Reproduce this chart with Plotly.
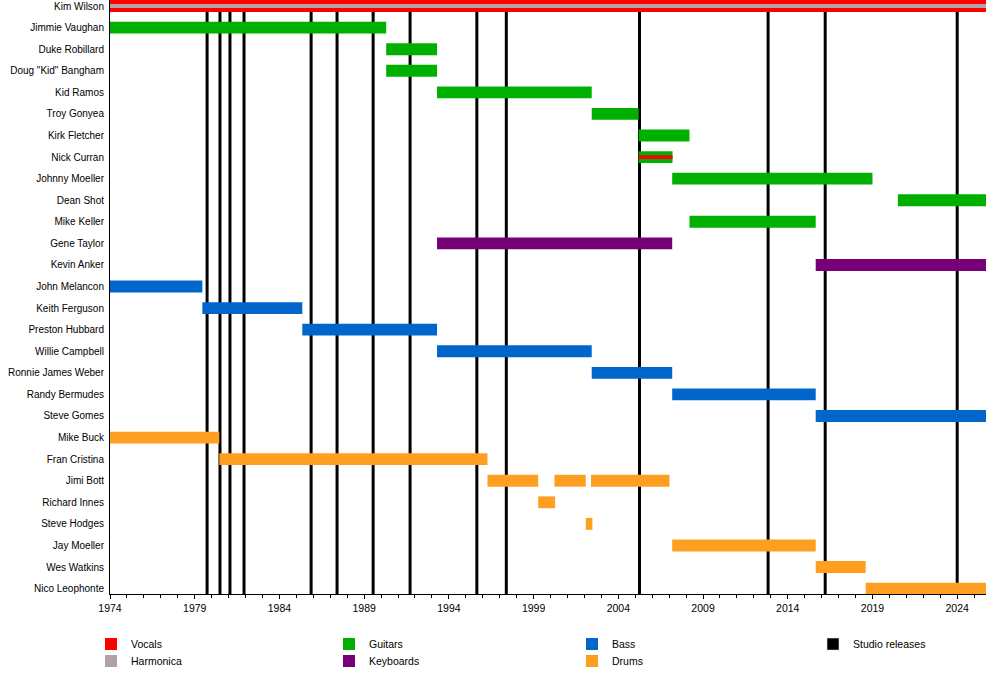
import plotly.graph_objects as go

# members, top to bottom
members = [
    "Kim Wilson", "Jimmie Vaughan", "Duke Robillard", 'Doug "Kid" Bangham',
    "Kid Ramos", "Troy Gonyea", "Kirk Fletcher", "Nick Curran",
    "Johnny Moeller", "Dean Shot", "Mike Keller", "Gene Taylor",
    "Kevin Anker", "John Melancon", "Keith Ferguson", "Preston Hubbard",
    "Willie Campbell", "Ronnie James Weber", "Randy Bermudes", "Steve Gomes",
    "Mike Buck", "Fran Cristina", "Jimi Bott", "Richard Innes",
    "Steve Hodges", "Jay Moeller", "Wes Watkins", "Nico Leophonte",
]

timeline_start = 1974
timeline_end = 2025.7

# vocals
vocal_members = ["Kim Wilson", "Nick Curran"]
vocal_start = [1974, 2005.2]
vocal_end = [2025.7, 2007.2]

# harmonica
harp_members = ["Kim Wilson"]
harp_start = [1974]
harp_end = [2025.7]

# guitars
guitar_members = ["Jimmie Vaughan", "Duke Robillard", 'Doug "Kid" Bangham', "Kid Ramos",
                  "Troy Gonyea", "Kirk Fletcher", "Nick Curran", "Johnny Moeller",
                  "Dean Shot", "Mike Keller"]
guitar_start = [1974, 1990.3, 1990.3, 1993.3, 2002.43, 2005.2, 2005.2, 2007.18, 2020.5, 2008.2]
guitar_end = [1990.3, 1993.3, 1993.3, 2002.43, 2005.2, 2008.2, 2007.2, 2019.0, 2025.7, 2015.65]

# keyboards
keys_members = ["Gene Taylor", "Kevin Anker"]
keys_start = [1993.3, 2015.65]
keys_end = [2007.18, 2025.7]

# bass
bass_members = ["John Melancon", "Keith Ferguson", "Preston Hubbard", "Willie Campbell",
                "Ronnie James Weber", "Randy Bermudes", "Steve Gomes"]
bass_start = [1974, 1979.45, 1985.35, 1993.3, 2002.43, 2007.18, 2015.65]
bass_end = [1979.45, 1985.35, 1993.3, 2002.43, 2007.18, 2015.65, 2025.7]

# drums
drum_members = ["Mike Buck", "Fran Cristina", "Jimi Bott", "Jimi Bott", "Jimi Bott",
                "Richard Innes", "Steve Hodges", "Jay Moeller", "Wes Watkins", "Nico Leophonte"]
drum_start = [1974, 1980.45, 1996.28, 2000.23, 2002.39, 1999.27, 2002.08, 2007.18, 2015.65, 2018.6]
drum_end = [1980.45, 1996.28, 1999.27, 2002.08, 2007.02, 2000.27, 2002.47, 2015.65, 2018.6, 2025.7]

# studio albums
album_years = [1979.73, 1980.49, 1981.08, 1981.91, 1985.87, 1987.40, 1989.53,
               1991.71, 1995.65, 1997.39, 2005.25, 2012.84, 2016.21, 2024.0]

tick_years = list(range(1974, 2025, 5))

fig = go.Figure()


def add_bars(name, who, start, end, color, width, legend):
    fig.add_trace(go.Bar(
        name=name, y=who, base=start,
        x=[e - s for s, e in zip(start, end)],
        orientation="h", width=width, marker=dict(color=color, line=dict(width=0)),
        legend=legend, showlegend=True, hoverinfo="skip",
    ))


add_bars("Guitars", guitar_members, guitar_start, guitar_end, "#00b000", 0.55, "legend3")
add_bars("Keyboards", keys_members, keys_start, keys_end, "#770077", 0.55, "legend4")
add_bars("Bass", bass_members, bass_start, bass_end, "#0066cc", 0.55, "legend5")
add_bars("Drums", drum_members, drum_start, drum_end, "#ff9f22", 0.55, "legend6")
add_bars("Vocals", vocal_members, vocal_start, vocal_end, "#ff0000", [0.55, 0.18], "legend")
add_bars("Harmonica", harp_members, harp_start, harp_end, "#b4a2a2", 0.19, "legend2")

# legend entry for the release lines
fig.add_trace(go.Bar(name="Studio releases", y=[members[0]], x=[None],
                     orientation="h", marker_color="black", legend="legend7",
                     showlegend=True))

for yr in album_years:
    fig.add_vline(x=yr, line=dict(color="black", width=3), layer="below")

# one small legend per key entry: column x (text start - 40 px), row y
row1, row2 = 0.0659, 0.0407
spots = {"legend": (0.091, row1), "legend2": (0.091, row2),
         "legend3": (0.329, row1), "legend4": (0.329, row2),
         "legend5": (0.572, row1), "legend6": (0.572, row2),
         "legend7": (0.813, row1)}
legends = {k: dict(xref="container", yref="container", x=x, y=y,
                   xanchor="left", yanchor="top", font=dict(size=10.5),
                   bgcolor="rgba(0,0,0,0)")
           for k, (x, y) in spots.items()}

fig.update_layout(
    width=1000, height=674,
    margin=dict(l=110, r=14, t=0, b=80, autoexpand=False),
    barmode="overlay", showlegend=True,
    plot_bgcolor="white", paper_bgcolor="white",
    font=dict(family="Arial", size=10, color="black"),
    xaxis=dict(range=[timeline_start, timeline_end], tickvals=tick_years,
               ticks="outside", ticklen=4, tickwidth=1, tickcolor="black",
               showline=True, linecolor="black", linewidth=1, showgrid=False,
               zeroline=False, tickfont=dict(size=10.5),
               minor=dict(dtick=1, tick0=1974, ticks="outside", ticklen=3,
                          tickcolor="black", showgrid=False)),
    yaxis=dict(categoryorder="array", categoryarray=members,
               range=[27.25, -0.28], showline=True, linecolor="black",
               linewidth=1, showgrid=False, ticks="", ticklabelstandoff=3),
    **legends,
)

fig.write_html("out.html", config={"displayModeBar": False},
               post_script="document.body.style.margin='0';")
